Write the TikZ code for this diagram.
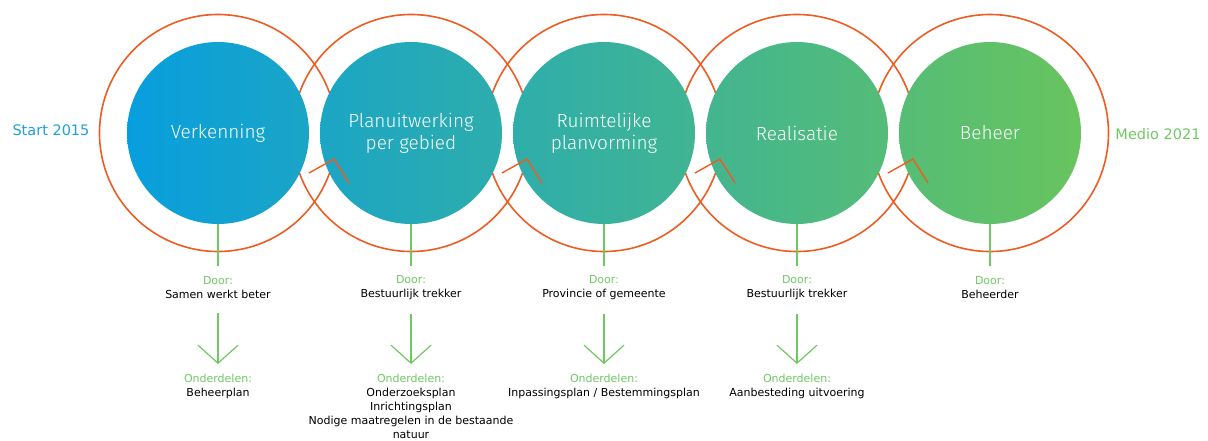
\documentclass[tikz,border=0pt]{standalone}
\usepackage{fontspec}
\setmainfont{DejaVu Sans}
\newfontfamily\circfont{Fira Sans Light}
\usetikzlibrary{arrows.meta,calc}
\definecolor{cblue}{RGB}{8,158,222}
\definecolor{cgreen}{RGB}{104,196,94}
\definecolor{corange}{RGB}{238,92,34}
\definecolor{lgreen}{RGB}{112,200,100}
\definecolor{sblue}{RGB}{30,160,220}
\colorlet{g0}{cgreen!0!cblue}
\colorlet{g1}{cgreen!19!cblue}
\colorlet{g2}{cgreen!20!cblue}
\colorlet{g3}{cgreen!39!cblue}
\colorlet{g4}{cgreen!40!cblue}
\colorlet{g5}{cgreen!59!cblue}
\colorlet{g6}{cgreen!61!cblue}
\colorlet{g7}{cgreen!80!cblue}
\colorlet{g8}{cgreen!81!cblue}
\colorlet{g9}{cgreen!100!cblue}
\tikzset{
  phase/.style={circle, minimum size=182pt, inner sep=0pt, align=center,
     text=white, font=\circfont\fontsize{19}{22}\selectfont},
  ring/.style={circle, draw=corange, line width=1.6pt, minimum size=237pt, inner sep=0pt},
  doorlbl/.style={align=center, font=\fontsize{11}{14}\selectfont, inner sep=1pt},
  greenline/.style={draw=lgreen, line width=1.8pt},
  greenarrow/.style={draw=lgreen, line width=1.2pt, -{Straight Barb[length=18pt,width=40pt]}},
  orangearrow/.style={draw=corange, line width=1.4pt},
  side/.style={font=\fontsize{14.5}{16}\selectfont}
}
\begin{document}
\begin{tikzpicture}[x=1pt,y=-1pt]
\useasboundingbox (0,0) rectangle (1208,440);
% rings
\foreach \i/\x in {1/218,2/411,3/604,4/797,5/990}{
  \node[ring] (r\i) at (\x,133) {};
}
% phase circles
\node[phase, left color=g0, right color=g1] (c1) at (218,133) {Verkenning};
\node[phase, left color=g2, right color=g3] (c2) at (411,133) {Planuitwerking\\per gebied};
\node[phase, left color=g4, right color=g5] (c3) at (604,133) {Ruimtelijke\\planvorming};
\node[phase, left color=g6, right color=g7] (c4) at (797,133) {Realisatie};
\node[phase, left color=g8, right color=g9] (c5) at (990,133) {Beheer};
% orange arrows
\foreach \x in {411,604,797,990}{
  \draw[orangearrow] (\x-102,173) -- (\x-77,159) -- (\x-62,183);
}
% side labels
\node[side, text=sblue] (start) at (51,130) {Start 2015};
\node[side, text=lgreen] (end) at (1158,134) {Medio 2021};
% door labels
\node[doorlbl] (d1) at (218,288) {\textcolor{lgreen}{Door:}\\Samen werkt beter};
\node[doorlbl] (d2) at (411,288) {\textcolor{lgreen}{Door:}\\Bestuurlijk trekker};
\node[doorlbl] (d3) at (604,288) {\textcolor{lgreen}{Door:}\\Provincie of gemeente};
\node[doorlbl] (d4) at (797,288) {\textcolor{lgreen}{Door:}\\Bestuurlijk trekker};
\node[doorlbl] (d5) at (990,288) {\textcolor{lgreen}{Door:}\\Beheerder};
% onderdelen
\node[doorlbl, anchor=north] (o1) at (218,373) {\textcolor{lgreen}{Onderdelen:}\\Beheerplan};
\node[doorlbl, anchor=north] (o2) at (411,373) {\textcolor{lgreen}{Onderdelen:}\\Onderzoeksplan\\Inrichtingsplan\\Nodige maatregelen in de bestaande\\natuur};
\node[doorlbl, anchor=north] (o3) at (604,373) {\textcolor{lgreen}{Onderdelen:}\\Inpassingsplan / Bestemmingsplan};
\node[doorlbl, anchor=north] (o4) at (797,373) {\textcolor{lgreen}{Onderdelen:}\\Aanbesteding uitvoering};
% connectors
\foreach \i in {1,...,5}{
  \draw[greenline] (c\i.south) -- (c\i.south |- 0,266);
}
\foreach \i in {1,...,4}{
  \draw[greenarrow] (d\i.south) ++(0,13) -- ($(o\i.north)+(0,-9)$);
}
\end{tikzpicture}
\end{document}
